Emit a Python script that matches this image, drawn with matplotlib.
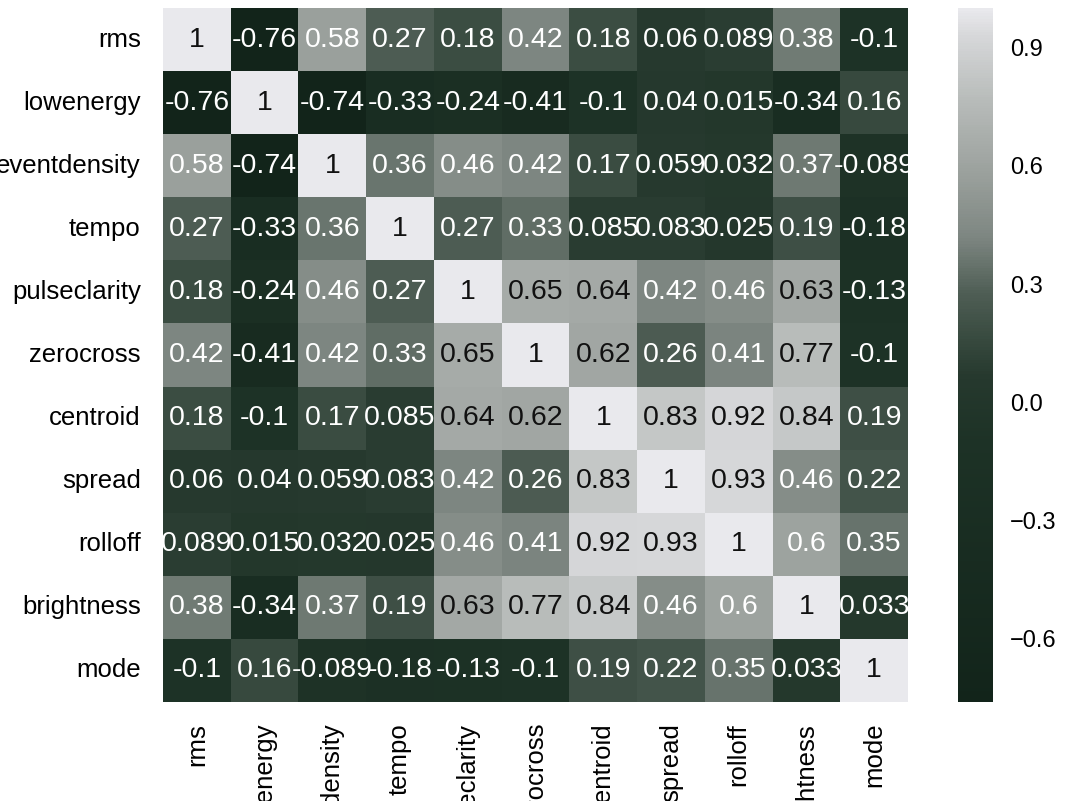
import numpy as np
import matplotlib
matplotlib.use("Agg")
import matplotlib.pyplot as plt
import seaborn as sns
from matplotlib.colors import LinearSegmentedColormap

# feature names (the figure edges crop some of them)
features = ["rms", "lowenergy", "eventdensity", "tempo", "pulseclarity",
            "zerocross", "centroid", "spread", "rolloff", "brightness", "mode"]

# correlation rows
rms = [1, -0.76, 0.58, 0.27, 0.18, 0.42, 0.18, 0.06, 0.089, 0.38, -0.1]
lowenergy = [-0.76, 1, -0.74, -0.33, -0.24, -0.41, -0.1, 0.04, 0.015, -0.34, 0.16]
eventdensity = [0.58, -0.74, 1, 0.36, 0.46, 0.42, 0.17, 0.059, 0.032, 0.37, -0.089]
tempo = [0.27, -0.33, 0.36, 1, 0.27, 0.33, 0.085, 0.083, 0.025, 0.19, -0.18]
pulseclarity = [0.18, -0.24, 0.46, 0.27, 1, 0.65, 0.64, 0.42, 0.46, 0.63, -0.13]
zerocross = [0.42, -0.41, 0.42, 0.33, 0.65, 1, 0.62, 0.26, 0.41, 0.77, -0.1]
centroid = [0.18, -0.1, 0.17, 0.085, 0.64, 0.62, 1, 0.83, 0.92, 0.84, 0.19]
spread = [0.06, 0.04, 0.059, 0.083, 0.42, 0.26, 0.83, 1, 0.93, 0.46, 0.22]
rolloff = [0.089, 0.015, 0.032, 0.025, 0.46, 0.41, 0.92, 0.93, 1, 0.6, 0.35]
brightness = [0.38, -0.34, 0.37, 0.19, 0.63, 0.77, 0.84, 0.46, 0.6, 1, 0.033]
mode = [-0.1, 0.16, -0.089, -0.18, -0.13, -0.1, 0.19, 0.22, 0.35, 0.033, 1]

cbar_ticks = [0.9, 0.6, 0.3, 0.0, -0.3, -0.6]


def main():
    plt.rcParams['font.family'] = ['Liberation Sans', 'DejaVu Sans']

    corr = np.array([rms, lowenergy, eventdensity, tempo, pulseclarity,
                     zerocross, centroid, spread, rolloff, brightness, mode])

    # dark green-black to pale grey, like the scanned colour bar
    cmap = LinearSegmentedColormap.from_list("scan", [
        (0.0, "#12241a"),
        (0.375, "#1d3226"),
        (0.47, "#26392e"),
        (0.53, "#3a4c41"),
        (0.59, "#4f5e55"),
        (0.67, "#7d8681"),
        (0.76, "#9aa09c"),
        (0.87, "#b8bcba"),
        (0.96, "#d6d7d9"),
        (1.0, "#e9e9ed"),
    ])

    fig = plt.figure(figsize=(10.67, 8.01), dpi=100)
    ax = fig.add_axes([0.1528, 0.1236, 0.6982, 0.8664])
    cax = fig.add_axes([0.898, 0.1236, 0.033, 0.8664])

    sns.heatmap(corr, ax=ax, cbar_ax=cax, cmap=cmap, vmin=-0.76, vmax=1,
                annot=True, fmt=".2g", annot_kws={"size": 20.5},
                xticklabels=features, yticklabels=features,
                cbar_kws={"ticks": cbar_ticks})

    # text colour per cell: dark on the pale cells
    for txt, val in zip(ax.texts, corr.flatten()):
        txt.set_color("#111111" if val >= 0.62 else "white")

    # labels run off the figure edges, as in the scanned original
    ax.tick_params(axis="y", length=0, pad=16, labelsize=18.5, rotation=0)
    ax.tick_params(axis="x", length=0, pad=15, labelsize=18.5, rotation=90)

    cax.tick_params(length=0, pad=12, labelsize=17)
    ax.collections[0].colorbar.outline.set_visible(False)

    fig.savefig("out.png", dpi=100)


if __name__ == '__main__':
    main()
